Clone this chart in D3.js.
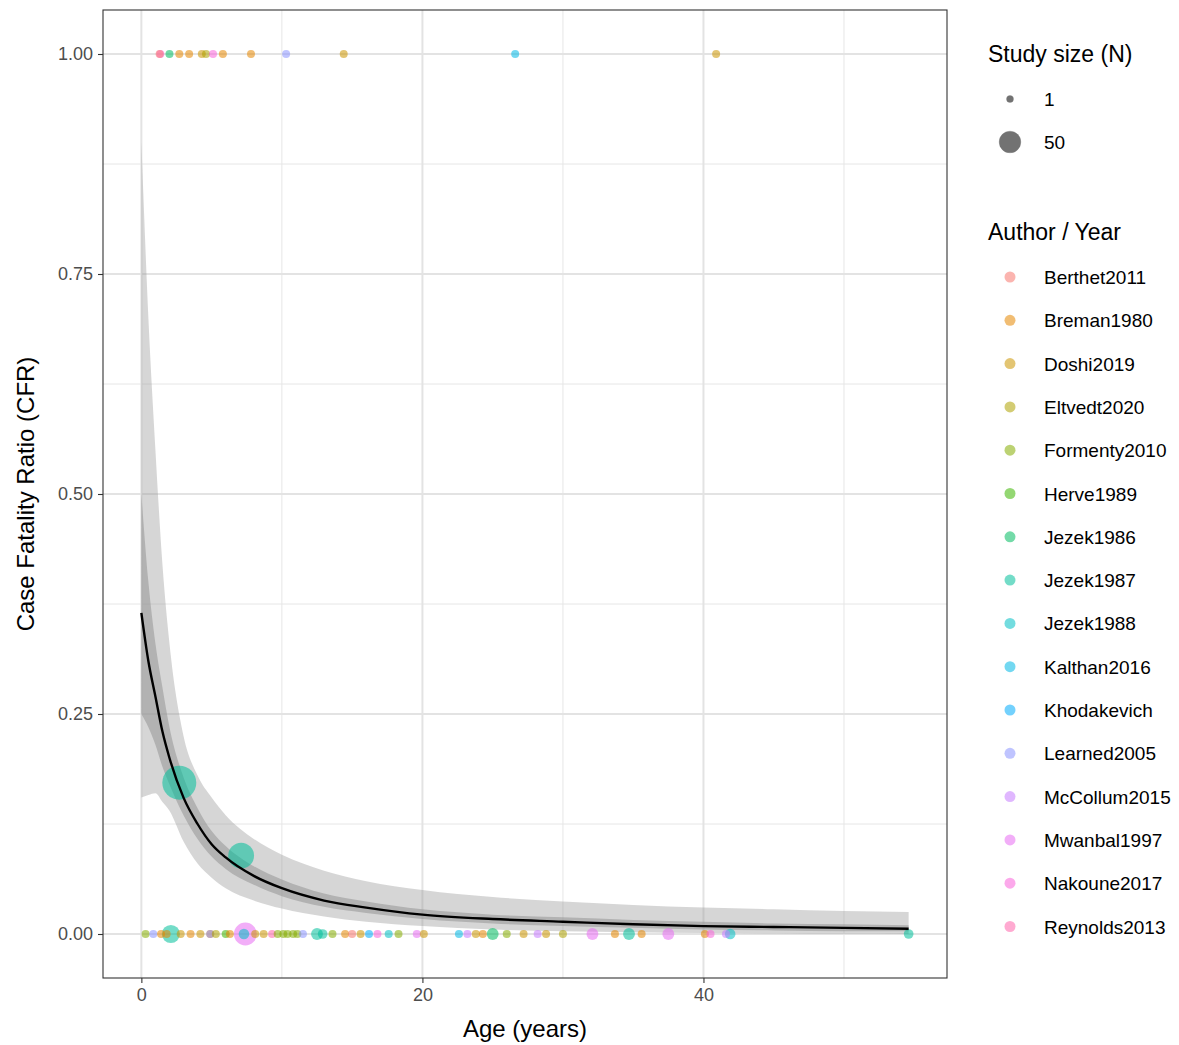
<!DOCTYPE html>
<html><head><meta charset="utf-8">
<script src="https://cdn.jsdelivr.net/npm/d3@7"></script>
<style>body{margin:0;background:#fff;font-family:"Liberation Sans",Arial,sans-serif}</style>
</head><body>
<script>
// authors (legend order) and colours
var authors = ["Berthet2011","Breman1980","Doshi2019","Eltvedt2020","Formenty2010","Herve1989","Jezek1986","Jezek1987","Jezek1988","Kalthan2016","Khodakevich","Learned2005","McCollum2015","Mwanbal1997","Nakoune2017","Reynolds2013"];
var colors = ["#F8766D","#E58700","#CC9600","#AFA200","#85AD00","#3DB700","#00BC61","#00C09A","#00BFC4","#00B8E5","#00ACFC","#8B93FF","#C77CFF","#E76BF3","#FA62DB","#FF65AC"];

// study points: age, cfr, author, N
var ages = [0.3,0.85,1.4,1.8,2.1,2.8,3.5,4.2,4.9,4.9,5.3,6.0,6.3,7.3,7.4,8.1,8.7,9.3,9.7,10.1,10.4,10.8,11.1,11.5,12.5,12.9,13.6,14.5,15.0,15.6,16.2,16.8,17.6,18.3,19.6,20.1,22.6,23.2,23.8,24.3,25.0,26.0,27.2,28.2,28.8,30.0,32.1,33.7,34.7,35.6,37.5,40.1,40.5,41.6,41.9,54.6,
            1.35,1.3,2.0,2.7,3.4,4.3,4.6,5.1,5.8,7.8,10.3,14.4,26.6,40.9,
            2.7,7.1];
var cfrs = [0,0,0,0,0,0,0,0,0,0,0,0,0,0,0,0,0,0,0,0,0,0,0,0,0,0,0,0,0,0,0,0,0,0,0,0,0,0,0,0,0,0,0,0,0,0,0,0,0,0,0,0,0,0,0,0,
            1,1,1,1,1,1,1,1,1,1,1,1,1,1,
            0.172,0.089];
var who = ["Formenty2010","Learned2005","Breman1980","Breman1980","Jezek1987","Doshi2019","Breman1980","Doshi2019","Breman1980","Learned2005","Eltvedt2020","Herve1989","Breman1980","Jezek1988","Mwanbal1997","Doshi2019","Doshi2019","Reynolds2013","Formenty2010","Formenty2010","Formenty2010","Formenty2010","Formenty2010","Learned2005","Jezek1987","Jezek1987","Formenty2010","Breman1980","Berthet2011","Doshi2019","Khodakevich","Nakoune2017","Jezek1988","Formenty2010","Mwanbal1997","Doshi2019","Kalthan2016","McCollum2015","Doshi2019","Breman1980","Jezek1986","Formenty2010","Doshi2019","McCollum2015","Doshi2019","Eltvedt2020","Mwanbal1997","Breman1980","Jezek1987","Breman1980","Mwanbal1997","Breman1980","Nakoune2017","McCollum2015","Jezek1988","Jezek1987",
           "Nakoune2017","Berthet2011","Jezek1986","Breman1980","Breman1980","Doshi2019","Eltvedt2020","Nakoune2017","Breman1980","Breman1980","Learned2005","Doshi2019","Kalthan2016","Doshi2019",
           "Jezek1987","Jezek1987"];
var sizes = [1,1,1,1,35,1,1,1,1,1,1,1,1,12,56,1,1,1,1,1,1,1,1,1,15,10,1,1,1,1,1,1,1,1,1,1,1,1,1,1,15,1,1,1,1,1,15,1,15,1,15,1,1,1,12,10,
             2,1,1,1,1,1,1,1,1,1,1,1,1,1,
             123,71];

// fitted curve and confidence bands
var fitAge = [0,0.5,1,1.5,2,3,4,5,6,8,10,13,16,20,25,30,35,40,45,50,54.6];
var fitCfr = [0.365,0.31,0.27,0.23,0.2,0.155,0.125,0.102,0.087,0.066,0.052,0.038,0.03,0.022,0.017,0.014,0.011,0.009,0.008,0.007,0.006];
var innerLo = [0.25,0.235,0.215,0.19,0.17,0.135,0.108,0.088,0.074,0.056,0.043,0.031,0.024,0.017,0.012,0.009,0.007,0.005,0.004,0.003,0.003];
var innerHi = [0.5,0.4,0.33,0.28,0.235,0.178,0.143,0.117,0.1,0.077,0.062,0.046,0.037,0.028,0.022,0.019,0.016,0.014,0.012,0.011,0.01];
var outerLo = [0.155,0.158,0.16,0.15,0.14,0.105,0.08,0.064,0.052,0.038,0.029,0.02,0.014,0.009,0.005,0.003,0.002,0.001,0.0005,0.0002,0];
var outerHi = [0.9,0.7,0.55,0.42,0.33,0.225,0.18,0.155,0.135,0.108,0.09,0.072,0.06,0.05,0.042,0.037,0.033,0.03,0.028,0.026,0.025];

var xTicks = [0,20,40], yTicks = [0,0.25,0.5,0.75,1];

var W = 1179, H = 1045;
var L = 103, R = 947, T = 10, B = 978;
var svg = d3.select("body").append("svg").attr("width", W).attr("height", H);

var x = d3.scaleLinear().domain([-2.73, 57.33]).range([L, R]);
var y = d3.scaleLinear().domain([-0.05, 1.05]).range([B, T]);
var r = d3.scaleSqrt().domain([0, 123]).range([0, 17]);
var col = d3.scaleOrdinal().domain(authors).range(colors);

// grid
var g = svg.append("g");
[10,30,50].forEach(function (v) {
  g.append("line").attr("x1", x(v)).attr("x2", x(v)).attr("y1", T).attr("y2", B).attr("stroke", "#e6e6e6").attr("stroke-width", 1);
});
[0.125,0.375,0.625,0.875].forEach(function (v) {
  g.append("line").attr("x1", L).attr("x2", R).attr("y1", y(v)).attr("y2", y(v)).attr("stroke", "#e6e6e6").attr("stroke-width", 1);
});
xTicks.forEach(function (v) {
  g.append("line").attr("x1", x(v)).attr("x2", x(v)).attr("y1", T).attr("y2", B).attr("stroke", "#e3e3e3").attr("stroke-width", 2);
});
yTicks.forEach(function (v) {
  g.append("line").attr("x1", L).attr("x2", R).attr("y1", y(v)).attr("y2", y(v)).attr("stroke", "#e3e3e3").attr("stroke-width", 2);
});

// bands
var idx = d3.range(fitAge.length);
function band(lo, hi) {
  return d3.area().curve(d3.curveMonotoneX)
    .x(function (i) { return x(fitAge[i]); })
    .y0(function (i) { return y(lo[i]); })
    .y1(function (i) { return y(hi[i]); })(idx);
}
svg.append("path").attr("d", band(outerLo, outerHi)).attr("fill", "#999").attr("opacity", 0.4);
svg.append("path").attr("d", band(innerLo, innerHi)).attr("fill", "#999").attr("opacity", 0.6);

// points
var pts = d3.range(ages.length).map(function (i) { return {a: ages[i], c: cfrs[i], w: who[i], n: sizes[i]}; });
pts.sort(function (p, q) { return q.n - p.n; });
svg.append("g").selectAll("circle").data(pts).enter().append("circle")
  .attr("cx", function (d) { return x(d.a); })
  .attr("cy", function (d) { return y(d.c); })
  .attr("r", function (d) { return Math.max(4, r(d.n)); })
  .attr("fill", function (d) { return col(d.w); })
  .attr("opacity", 0.55);

// fit line
svg.append("path")
  .attr("d", d3.line().curve(d3.curveMonotoneX).x(function (i) { return x(fitAge[i]); }).y(function (i) { return y(fitCfr[i]); })(idx))
  .attr("fill", "none").attr("stroke", "#000").attr("stroke-width", 2.4);

// panel border
svg.append("rect").attr("x", L).attr("y", T).attr("width", R - L).attr("height", B - T)
  .attr("fill", "none").attr("stroke", "#333").attr("stroke-width", 1.1);

// axes
var xa = svg.append("g").attr("transform", "translate(0," + B + ")")
  .call(d3.axisBottom(x).tickValues(xTicks).tickSize(5).tickPadding(5));
var ya = svg.append("g").attr("transform", "translate(" + L + ",0)")
  .call(d3.axisLeft(y).tickValues(yTicks).tickFormat(d3.format(".2f")).tickSize(5).tickPadding(5));
[xa, ya].forEach(function (a) {
  a.select(".domain").remove();
  a.selectAll("line").attr("stroke", "#333").attr("stroke-width", 1.1);
  a.selectAll("text").attr("fill", "#4d4d4d").style("font-size", "18px").style("font-family", "Liberation Sans, Arial, sans-serif");
});
svg.append("text").attr("x", (L + R) / 2).attr("y", 1037).attr("text-anchor", "middle")
  .style("font-size", "24px").text("Age (years)");
svg.append("text").attr("transform", "translate(34," + (T + B) / 2 + ") rotate(-90)").attr("text-anchor", "middle")
  .style("font-size", "24px").text("Case Fatality Ratio (CFR)");

// legends
var lg = svg.append("g");
lg.append("text").attr("x", 988).attr("y", 62).style("font-size", "23px").text("Study size (N)");
[[1, 99], [50, 142]].forEach(function (s) {
  lg.append("circle").attr("cx", 1010).attr("cy", s[1]).attr("r", s[0] === 1 ? 3.5 : r(50)).attr("fill", "#000").attr("opacity", 0.55)
    .attr("stroke", "#000").attr("stroke-opacity", 0.3);
  lg.append("text").attr("x", 1044).attr("y", s[1] + 7).style("font-size", "19px").text(s[0]);
});
lg.append("text").attr("x", 988).attr("y", 240).style("font-size", "23px").text("Author / Year");
authors.forEach(function (a, i) {
  var yy = 277 + i * 43.3;
  lg.append("circle").attr("cx", 1010).attr("cy", yy).attr("r", 5.5).attr("fill", col(a)).attr("opacity", 0.55);
  lg.append("text").attr("x", 1044).attr("y", yy + 7).style("font-size", "19px").text(a);
});
</script>
</body></html>
